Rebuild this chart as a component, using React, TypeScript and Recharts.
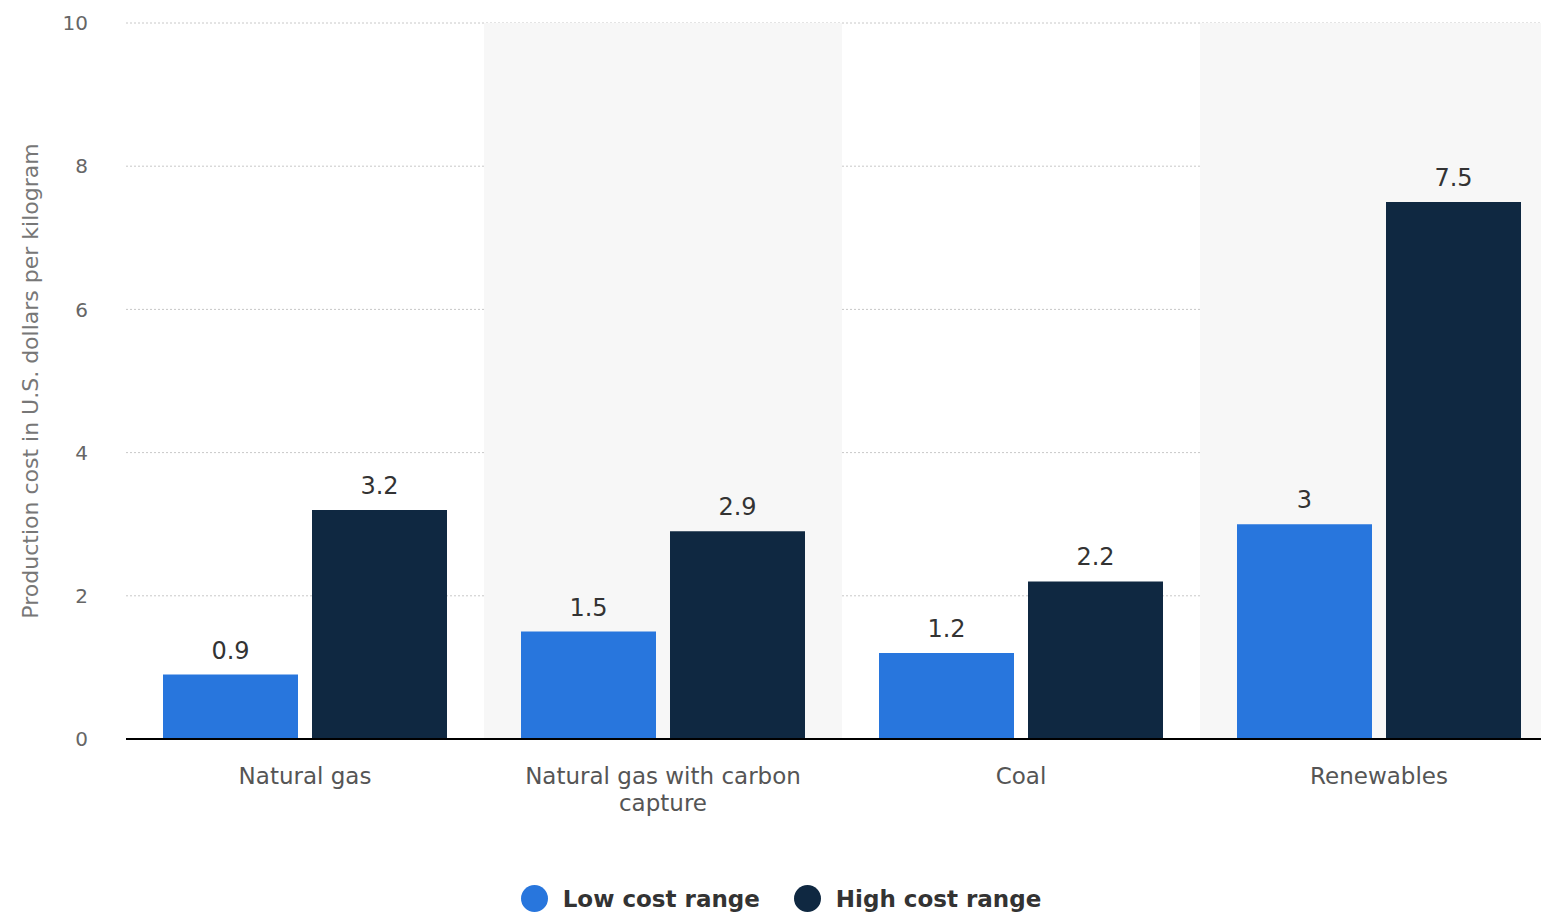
import React from "react";
import {
  BarChart,
  Bar,
  XAxis,
  YAxis,
  CartesianGrid,
  ReferenceArea,
  LabelList,
  Legend,
} from "recharts";

const categories = [
  "Natural gas",
  "Natural gas with carbon capture",
  "Coal",
  "Renewables",
];
const lowCost = [0.9, 1.5, 1.2, 3];
const highCost = [3.2, 2.9, 2.2, 7.5];
const yTicks = [0, 2, 4, 6, 8, 10];
const shadedCategories = ["Natural gas with carbon capture", "Renewables"];

const LOW_COLOR = "#2876DD";
const HIGH_COLOR = "#0F2841";
const FONT = "'DejaVu Sans', Verdana, sans-serif";

const data = categories.map((name, i) => ({
  name,
  low: lowCost[i],
  high: highCost[i],
}));

const series = [
  { key: "low", label: "Low cost range", color: LOW_COLOR },
  { key: "high", label: "High cost range", color: HIGH_COLOR },
];

// simple word wrap for the category labels
function wrapWords(text: string, maxChars: number) {
  const lines: string[] = [];
  let line = "";
  for (const word of text.split(" ")) {
    const next = line ? line + " " + word : word;
    if (next.length > maxChars && line) {
      lines.push(line);
      line = word;
    } else {
      line = next;
    }
  }
  if (line) lines.push(line);
  return lines;
}

function CategoryTick(props: any) {
  const { x, y, payload } = props;
  const lines = wrapWords(String(payload.value), 24);
  return (
    <text
      x={x}
      y={y + 37}
      textAnchor="middle"
      fill="#555"
      fontSize={23}
      fontFamily={FONT}
    >
      {lines.map((l, i) => (
        <tspan key={i} x={x} dy={i === 0 ? 0 : 27}>
          {l}
        </tspan>
      ))}
    </text>
  );
}

function LegendContent() {
  return (
    <div
      style={{
        display: "flex",
        justifyContent: "center",
        alignItems: "center",
        gap: 34,
        fontFamily: FONT,
        fontSize: 23,
        fontWeight: 600,
        color: "#333",
        paddingLeft: 4,
      }}
    >
      {series.map((s) => (
        <div key={s.key} style={{ display: "flex", alignItems: "center" }}>
          <span
            style={{
              width: 27,
              height: 27,
              borderRadius: "50%",
              background: s.color,
              display: "inline-block",
              marginRight: 15,
            }}
          />
          {s.label}
        </div>
      ))}
    </div>
  );
}

export default function App() {
  return (
    <div
      style={{
        position: "absolute",
        left: 0,
        top: 0,
        width: 1541,
        height: 917,
        overflow: "hidden",
        background: "#fff",
      }}
    >
      <BarChart
        width={1560}
        height={917}
        data={data}
        margin={{ top: 23, right: 2, bottom: 0, left: 0 }}
        barCategoryGap={37}
        barGap={14}
      >
        {shadedCategories.map((c) => (
          <ReferenceArea
            key={c}
            x1={c}
            x2={c}
            fill="#f7f7f7"
            fillOpacity={1}
            stroke="none"
          />
        ))}
        <CartesianGrid
          vertical={false}
          stroke="#c8c8c8"
          strokeDasharray="2 2"
        />
        <XAxis
          dataKey="name"
          height={146}
          tickLine={false}
          axisLine={{ stroke: "#000", strokeWidth: 2 }}
          tick={<CategoryTick />}
          interval={0}
        />
        <YAxis
          domain={[0, 10]}
          ticks={yTicks}
          width={126}
          axisLine={false}
          tickLine={false}
          tickMargin={32}
          tick={{ fill: "#666", fontSize: 20, fontFamily: FONT }}
          label={{
            value: "Production cost in U.S. dollars per kilogram",
            angle: -90,
            position: "insideLeft",
            offset: 30,
            style: {
              textAnchor: "middle",
              fill: "#777",
              fontSize: 22,
              fontFamily: FONT,
            },
          }}
        />
        <Legend verticalAlign="bottom" height={32} content={<LegendContent />} />
        {series.map((s) => (
          <Bar
            key={s.key}
            dataKey={s.key}
            name={s.label}
            fill={s.color}
            isAnimationActive={false}
          >
            <LabelList
              dataKey={s.key}
              position="top"
              offset={16}
              fill="#333"
              fontSize={24}
              fontFamily={FONT}
            />
          </Bar>
        ))}
      </BarChart>
    </div>
  );
}
